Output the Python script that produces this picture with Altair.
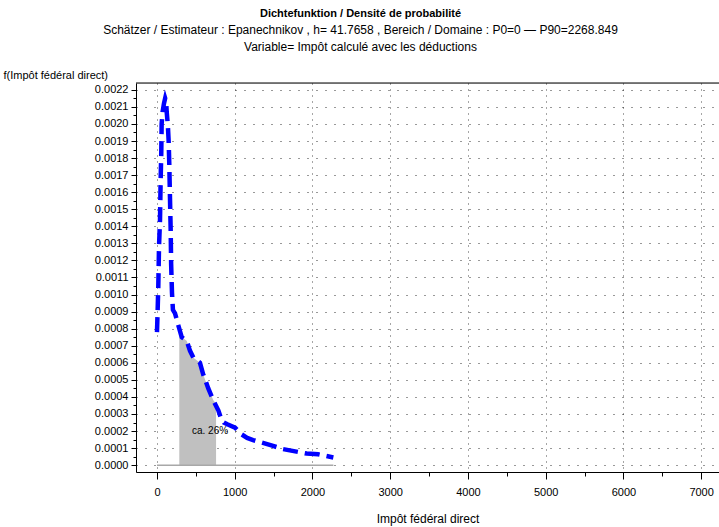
import altair as alt
import pandas as pd

# ---- data ----
curve_x = [0, 8, 17, 26, 39, 47, 55, 60, 72, 90, 105, 118, 125, 140, 150, 158, 167, 176, 182,
           193, 205, 232, 274, 318, 382, 425, 468, 553, 596, 660, 725, 790, 820, 860, 905,
           1004, 1090, 1160, 1236, 1493, 1622, 1926, 2072, 2268.849]
curve_y = [0.00078, 0.00090, 0.00105, 0.00128, 0.00144, 0.00167, 0.00183, 0.00200, 0.00207,
           0.00212, 0.00215, 0.00213, 0.00207, 0.00199, 0.00190, 0.00177, 0.00157, 0.00138,
           0.00118, 0.00101, 0.00091, 0.00089, 0.00082, 0.00075, 0.00073, 0.00067, 0.00063,
           0.00060, 0.00053, 0.00045, 0.00038, 0.00032, 0.00028, 0.00025, 0.00024, 0.00022,
           0.00018, 0.00016, 0.000147, 0.000113, 0.000094, 0.000068, 0.000064, 0.000045]

area_x = [287, 318, 382, 425, 468, 553, 596, 660, 725, 760]
area_y = [0.00078, 0.00075, 0.00073, 0.00067, 0.00063, 0.00060, 0.00053, 0.00045, 0.00038, 0.00036]

base_x = [0, 2268.849]
base_y = [0, 0]

label_x = [450]
label_y = [0.0002]
label_text = ["ca. 26%"]

x_ticks = [0, 500, 1000, 1500, 2000, 2500, 3000, 3500, 4000, 4500, 5000, 5500, 6000, 6500, 7000]
y_ticks = [round(i * 0.00005, 6) for i in range(0, 45)]

title_1 = "Dichtefunktion / Densité de probabilité"
title_2 = "Schätzer / Estimateur : Epanechnikov , h=  41.7658 , Bereich / Domaine : P0=0  \u2014  P90=2268.849"
title_3 = "Variable= Impôt calculé avec les déductions"
y_title = "f(Impôt fédéral direct)"
x_title = "Impôt fédéral direct"

FONT = "Liberation Sans"
W, H = 583, 389

curve_df = pd.DataFrame({"x": curve_x, "y": curve_y, "o": list(range(len(curve_x)))})
area_df = pd.DataFrame({"x": area_x, "y": area_y})
base_df = pd.DataFrame({"x": base_x, "y": base_y})
label_df = pd.DataFrame({"x": label_x, "y": label_y, "t": label_text})

x_major_test = "datum.value % 1000 === 0"
y_major_test = "round(datum.value * 20000) % 2 === 0"

x_scale = alt.Scale(domain=[-270, 7230], nice=False, zero=False)
y_scale = alt.Scale(domain=[-0.00004, 0.00224], nice=False, zero=False)

x_axis = alt.Axis(
    values=x_ticks,
    title=x_title,
    titleFont=FONT, titleFontSize=12, titleFontWeight="normal", titleColor="#000",
    titlePadding=16,
    labelFont=FONT, labelFontSize=11, labelColor="#000", labelPadding=7,
    labelExpr="datum.value % 1000 === 0 ? datum.label : ''",
    format="d",
    tickSize={"condition": {"test": x_major_test, "value": 7}, "value": 4},
    tickColor="#000", tickWidth=1,
    domainColor="#000", domainWidth=1,
    grid=True, gridColor="#000", gridDash=[1, 5], gridWidth=1,
    gridOpacity={"condition": {"test": x_major_test, "value": 0.7}, "value": 0},
)

y_axis = alt.Axis(
    values=y_ticks,
    title=y_title,
    titleFont=FONT, titleFontSize=11, titleFontWeight="normal", titleColor="#000",
    titleAngle=0, titleAlign="left", titleBaseline="bottom",
    titleX=-133, titleY=-3,
    labelFont=FONT, labelFontSize=11, labelColor="#000", labelPadding=3,
    labelExpr="round(datum.value * 20000) % 2 === 0 ? format(datum.value, '.4f') : ''",
    tickSize={"condition": {"test": y_major_test, "value": 5}, "value": 3},
    tickColor="#000", tickWidth=1,
    domainColor="#000", domainWidth=1,
    grid=True, gridColor="#000", gridDash=[1, 8], gridWidth=1,
    gridOpacity={"condition": {"test": y_major_test, "value": 0.8}, "value": 0},
)

X = alt.X("x:Q", scale=x_scale, axis=x_axis)
Y = alt.Y("y:Q", scale=y_scale, axis=y_axis)

area = alt.Chart(area_df).mark_area(color="#c0c0c0", opacity=1).encode(x=X, y=Y)

base = alt.Chart(base_df).mark_line(color="#a8a8a8", strokeWidth=1.5).encode(x=X, y=Y)

line = alt.Chart(curve_df).mark_line(
    color="#0000ff", strokeWidth=4.5, strokeDash=[15, 7], strokeCap="butt"
).encode(x=X, y=Y, order="o:Q")

label = alt.Chart(label_df).mark_text(
    align="left", baseline="middle", font=FONT, fontSize=10, color="#000"
).encode(x=X, y=Y, text="t:N")

top_frame = alt.Chart(pd.DataFrame({"a": [0]})).mark_rule(color="#000", strokeWidth=1).encode(
    x=alt.value(0), x2=alt.value(W), y=alt.value(0)
)

chart = alt.layer(area, base, line, label, top_frame).properties(
    width=W,
    height=H,
    autosize=alt.AutoSizeParams(type="none"),
    padding={"left": 136, "top": 83, "right": 0, "bottom": 55},
    title=alt.TitleParams(
        text=title_1,
        subtitle=[title_2, title_3],
        anchor="middle",
        frame="group",
        dx=-67,
        offset=16,
        font=FONT, fontSize=11, fontWeight="bold", color="#000",
        subtitleFont=FONT, subtitleFontSize=12, subtitleColor="#000",
        subtitleLineHeight=17, subtitlePadding=6,
    ),
).configure_view(stroke=None).configure(background="white")

chart.save("out.html", embed_options={"renderer": "svg", "actions": False})
